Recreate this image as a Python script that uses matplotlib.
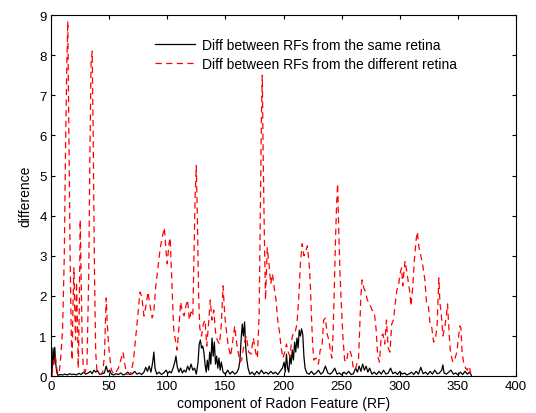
import matplotlib
matplotlib.use("Agg")
import matplotlib.pyplot as plt

plt.rcParams['font.family'] = ['Liberation Sans', 'DejaVu Sans']

# Red dashed series: difference between RFs from different retinas
red_x = [1, 2.5, 4, 5.5, 7, 8.5, 10, 11.5, 12.5, 13.5, 14.5, 15.5, 16.5, 17.5, 18.2, 19, 19.8, 20.5, 21.2, 22, 22.8, 23.5, 24.3, 25.2, 26, 27, 28, 29.5, 31, 32.5, 33.5, 34.5, 35.5, 36.5, 37.5, 38.5, 39.5, 41, 43, 44.5, 46, 47.5, 48.5, 49.5, 50.5, 52, 54, 56, 58, 60, 62, 63.5, 65, 67, 69, 71, 73, 75, 76.5, 78, 80, 82, 83.5, 85, 87, 88.5, 90, 92, 94, 96, 97.5, 99, 100, 101.5, 102.5, 103.5, 104.5, 105.5, 107, 108.5, 110, 111.5, 113, 114.5, 116, 117.5, 119, 120.5, 122, 123, 124, 125, 126, 127, 128, 129.5, 131, 132.5, 134, 135.5, 137, 138.5, 140, 141.5, 143, 145, 146.5, 148, 149.5, 151, 152.5, 154.5, 156, 158, 159.5, 161, 162.5, 164, 166, 168, 170, 172, 174, 176, 177.5, 179, 180, 181, 181.7, 182.5, 183.5, 184.5, 186, 187.5, 189, 190.5, 192, 193.5, 195, 196.5, 198, 199.5, 201, 202.5, 204, 205.5, 207, 208.5, 210, 211.5, 213, 214.5, 216, 217.5, 219, 220.5, 222, 223, 224, 225, 226, 228, 230, 231.5, 233, 234.5, 236, 237.5, 239, 240.5, 241.5, 242.5, 243.5, 244.5, 245.5, 246.5, 247.5, 248.5, 249.5, 251, 252.5, 254, 255.5, 257, 258.5, 260, 261.5, 263, 264.5, 265.5, 266.5, 267.5, 269, 270.5, 272, 274, 276, 278, 279.5, 281, 282.5, 284, 285.5, 287, 288.5, 290, 291.5, 293, 294.5, 296, 297.5, 299, 300.5, 301.5, 302.5, 303.5, 304.5, 306, 307.5, 308.5, 309.5, 311, 312.5, 314, 315, 316.5, 318, 319.5, 321.5, 323, 324.5, 326, 327.5, 329, 330.5, 332, 333.5, 334.5, 335.5, 337, 338.5, 340, 341, 342.5, 343.5, 345.5, 347, 349, 350.5, 351.5, 352.5, 353.5, 355, 356.5, 358, 359, 360, 361]
red_y = [0.0, 0.5, 0.45, 0.1, 0.05, 0.5, 1.15, 3.0, 5.5, 7.5, 8.85, 6.0, 3.0, 1.0, 0.4, 1.8, 2.7, 1.6, 0.9, 2.35, 1.3, 0.2, 1.5, 3.9, 2.5, 0.6, 0.2, 0.1, 0.3, 2.5, 5.5, 7.8, 8.1, 5.5, 2.5, 0.6, 0.15, 0.05, 0.05, 0.1, 0.5, 1.95, 1.3, 0.8, 0.5, 0.15, 0.05, 0.1, 0.2, 0.4, 0.6, 0.3, 0.05, 0.05, 0.1, 0.4, 1.0, 1.6, 2.1, 2.0, 1.5, 1.8, 2.1, 1.8, 1.45, 1.6, 2.2, 2.7, 3.2, 3.5, 3.7, 3.1, 2.8, 3.3, 3.45, 2.7, 1.9, 1.2, 0.9, 0.65, 1.2, 1.85, 1.6, 1.5, 1.75, 1.9, 1.4, 1.6, 1.5, 3.0, 4.5, 5.25, 3.8, 2.0, 1.2, 1.0, 1.3, 1.4, 0.75, 1.3, 1.9, 1.4, 1.65, 1.1, 0.9, 0.8, 1.3, 2.25, 1.5, 1.1, 0.75, 0.5, 0.8, 1.25, 0.85, 0.6, 0.35, 0.4, 0.8, 1.0, 0.6, 0.55, 0.95, 0.6, 0.45, 1.5, 4.0, 6.5, 7.5, 5.5, 3.5, 1.9, 3.2, 2.8, 2.3, 2.55, 2.2, 1.9, 1.4, 1.1, 0.7, 0.45, 0.6, 0.8, 0.6, 0.5, 0.9, 1.1, 1.1, 1.3, 1.9, 2.8, 3.3, 3.0, 3.1, 3.25, 2.8, 2.3, 1.5, 0.8, 0.4, 0.45, 0.3, 0.65, 0.7, 1.4, 1.45, 1.05, 0.9, 0.6, 0.45, 1.0, 2.0, 3.2, 4.2, 4.8, 3.6, 2.6, 1.9, 1.0, 0.4, 0.35, 0.6, 0.65, 0.5, 0.2, 0.15, 0.3, 0.45, 1.2, 2.0, 2.4, 2.2, 2.1, 1.9, 1.8, 1.65, 1.6, 1.2, 0.5, 0.35, 1.0, 1.05, 0.8, 1.4, 0.7, 0.6, 1.3, 1.4, 1.8, 2.15, 2.3, 2.6, 2.7, 2.25, 2.6, 2.87, 2.6, 2.3, 2.1, 1.75, 2.2, 2.9, 3.4, 3.6, 3.2, 3.0, 2.8, 2.4, 1.8, 1.75, 1.3, 1.2, 0.85, 0.9, 1.25, 2.45, 1.8, 1.6, 1.0, 1.2, 1.5, 1.8, 1.0, 0.6, 0.35, 0.4, 0.6, 1.0, 1.25, 1.2, 0.6, 0.3, 0.2, 0.15, 0.25, 0.2, 0.05]

# Black solid series: difference between RFs from the same retina
black_x = [1, 1.8, 2.5, 3.3, 4, 5, 6, 8, 10, 12, 14, 16, 18, 20, 22, 24, 26, 28, 30, 32, 34, 35.5, 37, 38.5, 40, 42, 44, 46, 47.5, 49, 50.5, 52, 54, 56, 58, 60, 62, 64, 66, 68, 70, 72, 74, 76, 78, 80, 81.5, 83, 84.5, 86, 87.5, 88.5, 89.5, 91, 93, 95, 97, 99, 100.5, 102, 103.5, 105, 106.5, 107.5, 108.5, 110, 111.5, 113, 114.5, 116, 117.5, 119, 120.5, 122, 123.5, 125, 126.5, 127.5, 128.5, 129.5, 130.5, 131.5, 132.5, 133.5, 134.5, 135.5, 136.5, 137.5, 138.5, 139.5, 140.5, 141.5, 142.5, 143.5, 144.5, 145.5, 146.5, 148, 150, 152, 154, 156, 158, 160, 161.5, 162.5, 163.5, 164.5, 165.5, 166.5, 167.5, 168.5, 169.5, 171, 173, 175, 177, 179, 181, 183, 185, 187, 189, 191, 193, 195, 197, 199, 200.5, 201.5, 202.5, 203.5, 204.5, 205.5, 206.5, 207.5, 208.5, 209.5, 210.5, 211.5, 212.5, 213.5, 214.5, 215.5, 216.5, 217.5, 218.5, 220, 222, 224, 226, 228, 230, 232, 234, 236, 238, 240, 242, 244, 246, 248, 250, 252, 254, 256, 258, 260, 262, 263.5, 265, 266.5, 268, 269.5, 271, 272.5, 274, 276, 278, 280, 282, 284, 286, 288, 290, 292, 294, 296, 298, 300, 302, 304, 306, 308, 310, 312, 314, 316, 318, 320, 322, 324, 326, 328, 330, 332, 334, 336, 337, 338, 340, 342, 344, 346, 348, 350, 352, 354, 356, 358, 360, 361.5]
black_y = [0.1, 0.7, 0.3, 0.72, 0.35, 0.1, 0.02, 0.04, 0.03, 0.05, 0.03, 0.06, 0.04, 0.05, 0.03, 0.07, 0.04, 0.1, 0.05, 0.08, 0.12, 0.06, 0.15, 0.1, 0.14, 0.04, 0.06, 0.08, 0.25, 0.1, 0.15, 0.05, 0.03, 0.06, 0.04, 0.08, 0.03, 0.05, 0.1, 0.04, 0.06, 0.12, 0.05, 0.08, 0.04, 0.1, 0.22, 0.12, 0.25, 0.1, 0.35, 0.6, 0.2, 0.05, 0.1, 0.04, 0.08, 0.15, 0.07, 0.12, 0.08, 0.2, 0.35, 0.5, 0.25, 0.1, 0.2, 0.08, 0.15, 0.1, 0.25, 0.15, 0.3, 0.15, 0.2, 0.05, 0.35, 0.8, 0.9, 0.7, 0.75, 0.6, 0.3, 0.1, 0.4, 0.15, 0.6, 0.3, 0.95, 0.5, 0.85, 0.3, 0.5, 0.2, 0.45, 0.15, 0.35, 0.1, 0.05, 0.15, 0.05, 0.12, 0.05, 0.1, 0.2, 0.4, 0.9, 1.3, 1.0, 1.35, 0.7, 0.4, 0.2, 0.05, 0.1, 0.03, 0.12, 0.05, 0.15, 0.06, 0.1, 0.05, 0.12, 0.06, 0.1, 0.04, 0.12, 0.2, 0.35, 0.1, 0.55, 0.2, 0.1, 0.5, 0.3, 0.65, 0.4, 0.85, 0.6, 0.95, 0.7, 1.15, 1.0, 1.18, 1.05, 0.5, 0.2, 0.08, 0.05, 0.12, 0.04, 0.08, 0.15, 0.05, 0.1, 0.25, 0.08, 0.05, 0.1, 0.2, 0.05, 0.08, 0.03, 0.1, 0.05, 0.12, 0.04, 0.06, 0.2, 0.1, 0.25, 0.12, 0.3, 0.15, 0.25, 0.1, 0.2, 0.05, 0.1, 0.04, 0.12, 0.05, 0.15, 0.05, 0.08, 0.2, 0.06, 0.1, 0.04, 0.12, 0.05, 0.08, 0.03, 0.06, 0.1, 0.04, 0.12, 0.05, 0.22, 0.06, 0.1, 0.04, 0.12, 0.05, 0.15, 0.06, 0.08, 0.15, 0.28, 0.08, 0.05, 0.1, 0.15, 0.05, 0.08, 0.03, 0.1, 0.04, 0.12, 0.05, 0.1, 0.02]

x_ticks = [0, 50, 100, 150, 200, 250, 300, 350, 400]
y_ticks = [0, 1, 2, 3, 4, 5, 6, 7, 8, 9]
label_same = "Diff between RFs from the same retina"
label_diff = "Diff between RFs from the different retina"

fig = plt.figure(figsize=(5.36, 4.14), dpi=100)
ax = fig.add_axes([0.095, 0.089, 0.868, 0.872])

ax.plot(black_x, black_y, color='black', linewidth=0.9, label=label_same)
ax.plot(red_x, red_y, color='red', linewidth=0.9, linestyle=(0, (5, 3.5)), label=label_diff)

ax.set_xlim(0, 400)
ax.set_ylim(0, 9)
ax.set_xticks(x_ticks)
ax.set_yticks(y_ticks)
ax.tick_params(direction='in', top=True, right=True, labelsize=9.5, length=3, width=0.8, pad=3)
for s in ax.spines.values():
    s.set_linewidth(0.8)
ax.set_xlabel("component of Radon Feature (RF)", fontsize=10, labelpad=2.5)
ax.set_ylabel("difference", fontsize=10, labelpad=5)

leg = ax.legend(loc='upper left', bbox_to_anchor=(0.196, 0.972), frameon=False,
                fontsize=10, handlelength=2.9, handletextpad=0.5, labelspacing=0.35)

fig.savefig("out.png", dpi=100, facecolor='white')
